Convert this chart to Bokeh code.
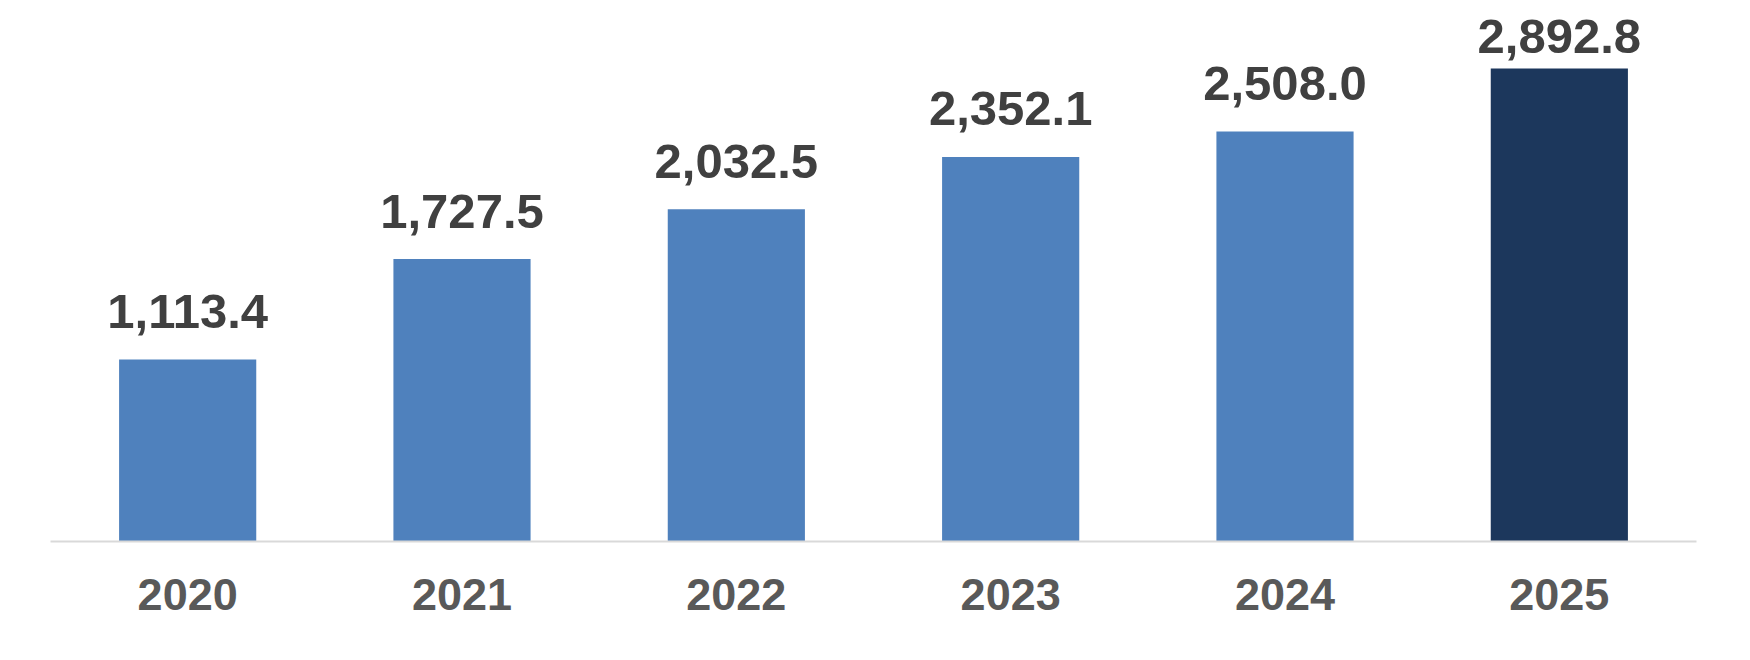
from bokeh.plotting import figure
from bokeh.models import ColumnDataSource, FactorRange, Range1d
from bokeh.core.properties import value
from bokeh.embed import file_html
from bokeh.resources import INLINE

years = ["2020", "2021", "2022", "2023", "2024", "2025"]
values = [1113.4, 1727.5, 2032.5, 2352.1, 2508.0, 2892.8]
labels = ["1,113.4", "1,727.5", "2,032.5", "2,352.1", "2,508.0", "2,892.8"]

colors = ["#4F81BD"] * 5 + ["#1C375C"]
label_offsets = [-48, -48, -48, -48, -48, -32]

src = ColumnDataSource(dict(year=years, val=values, lab=labels,
                            color=colors, yoff=label_offsets))

p = figure(x_range=FactorRange(*years, range_padding=0.0),
           y_range=Range1d(0, 3260),
           width=1734, height=640,
           output_backend="svg", toolbar_location=None,
           y_axis_location=None,
           min_border_left=50, min_border_right=38,
           min_border_top=8, min_border_bottom=99)

p.vbar(x="year", top="val", width=0.5, color="color", source=src, line_color=None)

p.text(x="year", y="val", text="lab", source=src, y_offset="yoff",
       text_align="center", text_baseline="alphabetic",
       text_font=value("Liberation Sans"), text_font_style="bold",
       text_font_size="49px", text_color="#404040")

p.outline_line_color = None
p.xgrid.grid_line_color = None
p.ygrid.grid_line_color = None
p.xaxis.axis_line_color = "#D9D9D9"
p.xaxis.axis_line_width = 2
p.xaxis.major_tick_line_color = None
p.xaxis.minor_tick_line_color = None
p.xaxis.major_label_text_font = "Liberation Sans"
p.xaxis.major_label_text_font_style = "bold"
p.xaxis.major_label_text_font_size = "45px"
p.xaxis.major_label_text_color = "#595959"
p.xaxis.major_label_standoff = 31
p.background_fill_color = "white"
p.border_fill_color = "white"

open("out.html", "w").write(file_html(p, INLINE))
